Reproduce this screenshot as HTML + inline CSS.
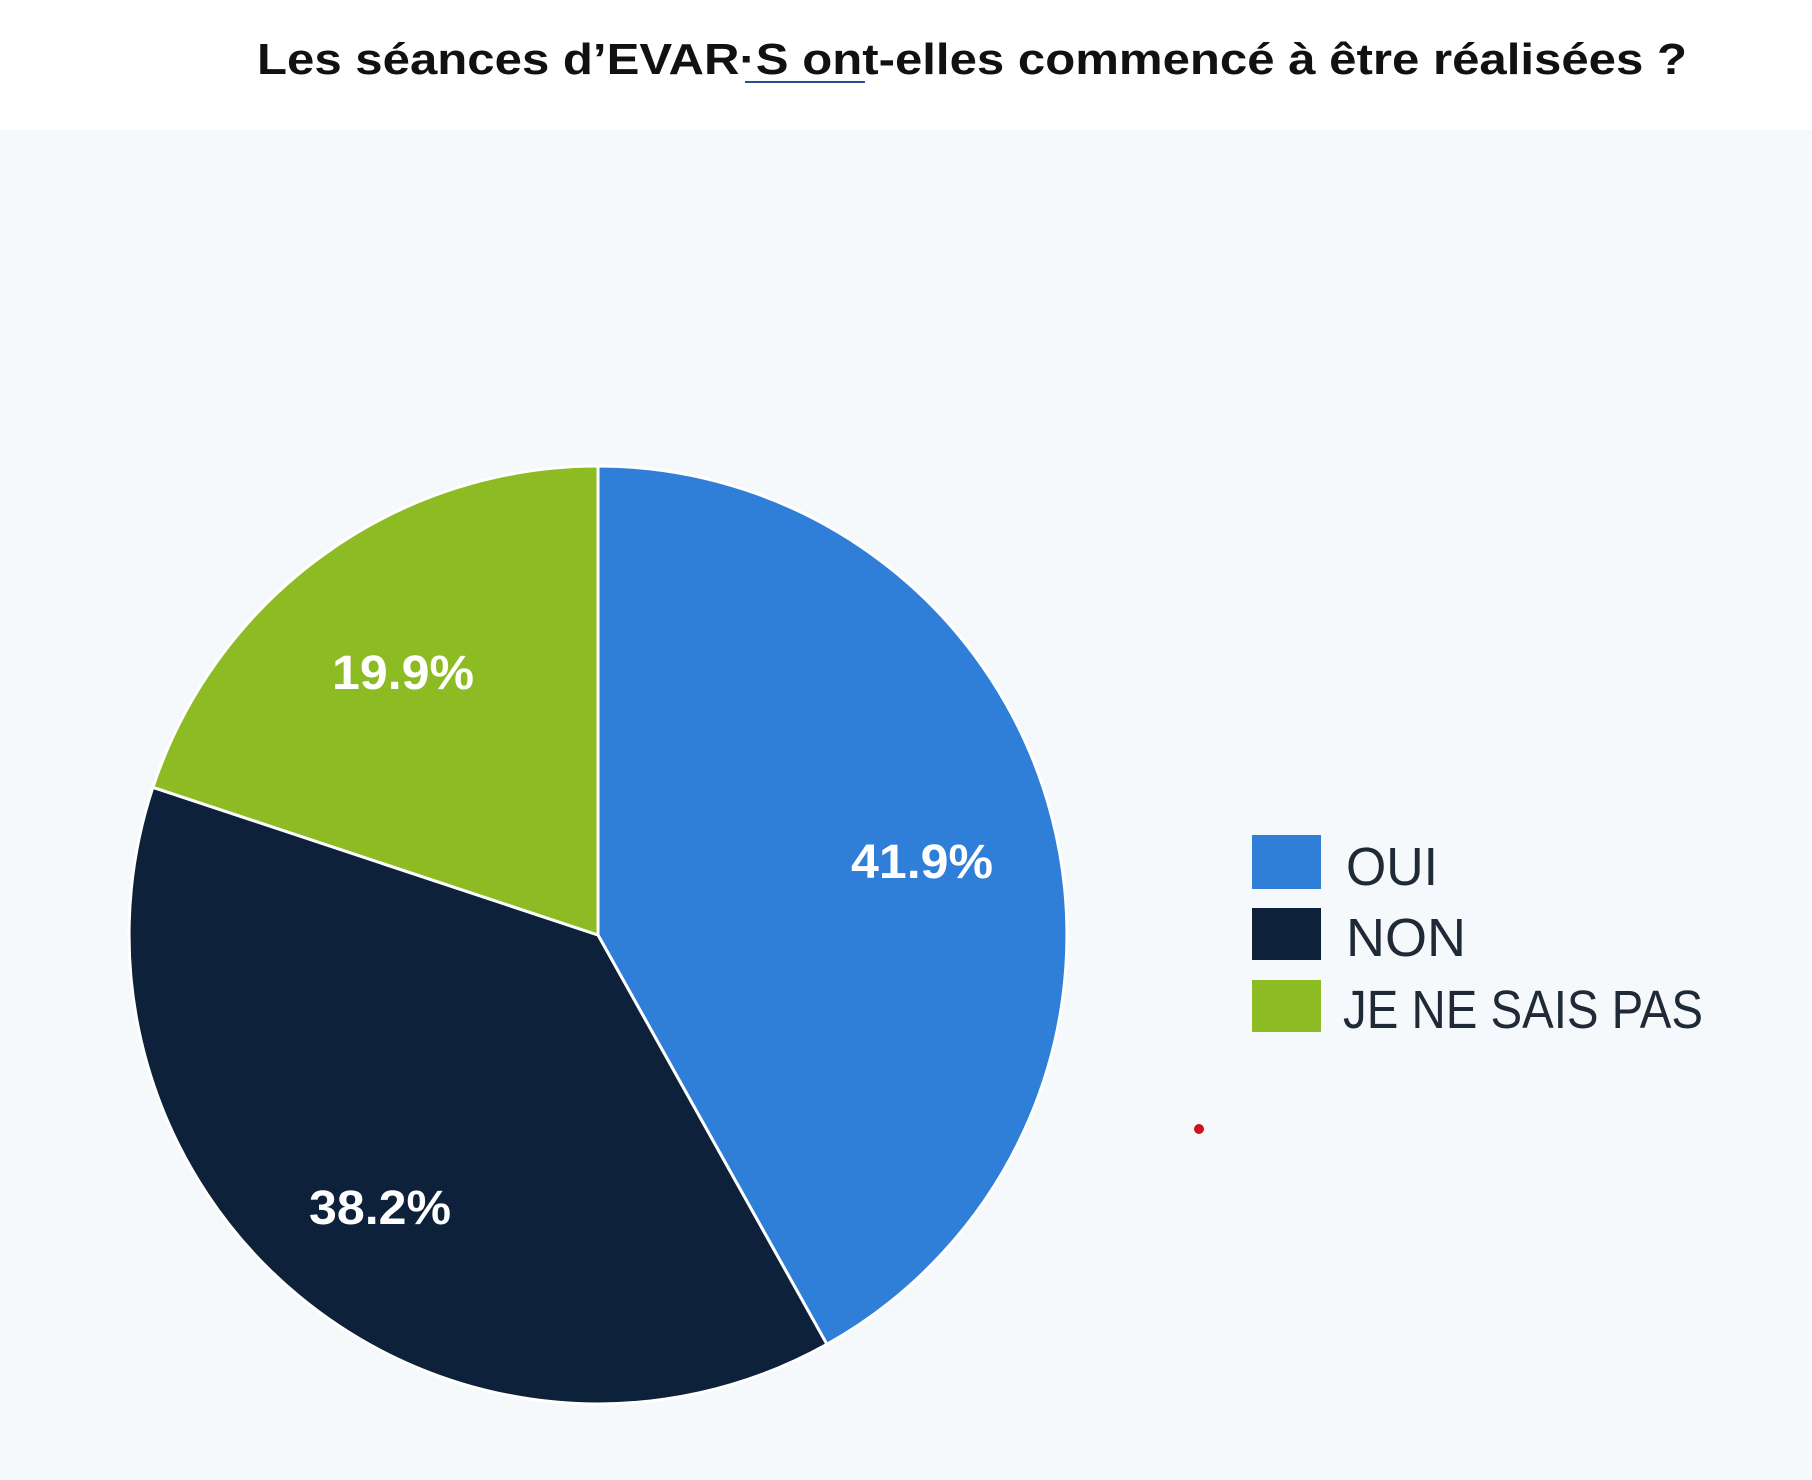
<!DOCTYPE html>
<html><head><meta charset="utf-8"><style>
html,body{margin:0;padding:0}
body{width:1812px;height:1480px;position:relative;background:#f5f9fc;font-family:"Liberation Sans",sans-serif;overflow:hidden}
#top{position:absolute;left:0;top:0;width:1812px;height:130px;background:#fff}
</style></head><body>
<div id="top"></div>
<svg width="1812" height="1480" style="position:absolute;left:0;top:0">
<text x="257" y="74" font-family="Liberation Sans,sans-serif" font-weight="bold" font-size="44" fill="#111" textLength="1430" lengthAdjust="spacingAndGlyphs">Les séances d’EVAR·S ont-elles commencé à être réalisées ?</text>
<rect x="745" y="81" width="120" height="2" fill="#2a4a9a"/>
<g stroke="#ffffff" stroke-width="3" stroke-linejoin="round">
<path d="M598,935 L598,466 A469,469 0 0,1 826.9,1344.3 Z" fill="#2f7ed8"/>
<path d="M598,935 L826.9,1344.3 A469,469 0 0,1 152.9,787.3 Z" fill="#0e213a"/>
<path d="M598,935 L152.9,787.3 A469,469 0 0,1 598,466 Z" fill="#8cbb23"/>
</g>
<g font-family="Liberation Sans,sans-serif" font-weight="bold" font-size="48" fill="#fff" text-anchor="middle">
<text x="922" y="878" textLength="142" lengthAdjust="spacingAndGlyphs">41.9%</text>
<text x="403" y="689" textLength="142" lengthAdjust="spacingAndGlyphs">19.9%</text>
<text x="380" y="1224" textLength="142" lengthAdjust="spacingAndGlyphs">38.2%</text>
</g>
<rect x="1252" y="835" width="69" height="54" fill="#2f7ed8"/>
<rect x="1252" y="908" width="69" height="52" fill="#0e213a"/>
<rect x="1252" y="980" width="69" height="52" fill="#8cbb23"/>
<g font-family="Liberation Sans,sans-serif" font-size="54" fill="#1f2a36">
<text x="1346" y="885" textLength="92" lengthAdjust="spacingAndGlyphs">OUI</text>
<text x="1346" y="956" textLength="120" lengthAdjust="spacingAndGlyphs">NON</text>
<text x="1343" y="1028" textLength="360" lengthAdjust="spacingAndGlyphs">JE NE SAIS PAS</text>
</g>
<circle cx="1199" cy="1129" r="5" fill="#d0101a"/>
</svg>
</body></html>
